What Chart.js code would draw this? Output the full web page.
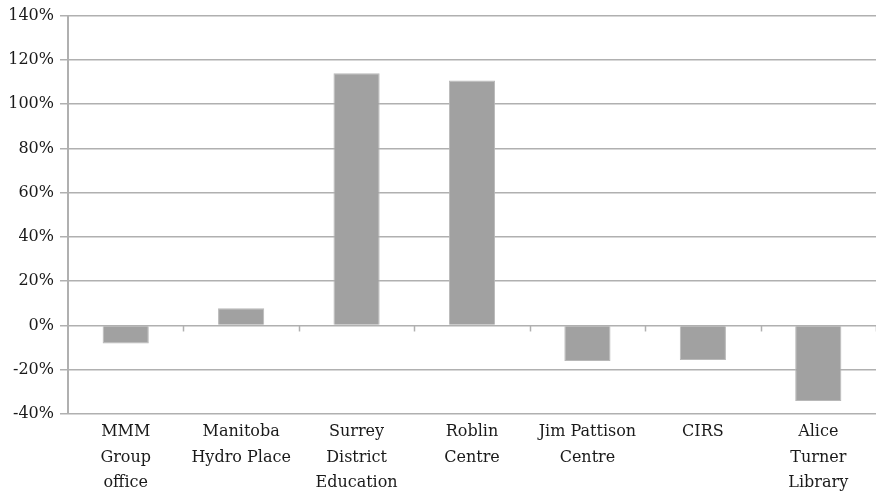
<!DOCTYPE html>
<html>
<head>
<meta charset="utf-8">
<script src="https://cdn.jsdelivr.net/npm/chart.js@4/dist/chart.umd.min.js"></script>
<style>
  html, body { margin: 0; padding: 0; background: #fff; }
  #wrap { width: 876px; height: 494px; }
</style>
</head>
<body>
<div id="wrap"><canvas id="c" width="876" height="494"></canvas></div>
<script>
// Building names (multi-line labels) and percentage differences
const categories = [
  ["MMM", "Group", "office"],
  ["Manitoba", "Hydro Place"],
  ["Surrey", "District", "Education"],
  ["Roblin", "Centre"],
  ["Jim Pattison", "Centre"],
  ["CIRS"],
  ["Alice", "Turner", "Library"]
];
const percentDiff = [-8.2, 7.8, 114, 110.7, -16.1, -15.6, -34.1];
const yTicks = { min: -40, max: 140, step: 20 };

const GRID = '#b0b0b0';
const FONT = "'DejaVu Serif', serif";

// Category-boundary tick marks hanging below the zero line
const zeroAxisTicks = {
  id: 'zeroAxisTicks',
  afterDatasetsDraw(chart) {
    const x = chart.scales.x, y = chart.scales.y;
    const y0 = y.getPixelForValue(0);
    const ctx = chart.ctx;
    ctx.save();
    ctx.strokeStyle = GRID;
    ctx.lineWidth = 1.5;
    const half = (x.getPixelForValue(1) - x.getPixelForValue(0)) / 2;
    for (let i = 0; i < categories.length; i++) {
      const px = Math.round(x.getPixelForValue(i) + half) + 0.5;
      ctx.beginPath();
      ctx.moveTo(px, y0);
      ctx.lineTo(px, y0 + 6);
      ctx.stroke();
    }
    ctx.restore();
  }
};

new Chart(document.getElementById('c'), {
  type: 'bar',
  data: {
    labels: categories,
    datasets: [{
      data: percentDiff,
      backgroundColor: '#a1a1a1',
      borderColor: '#b8b8b8',
      borderWidth: 1,
      barPercentage: 0.4,
      categoryPercentage: 1.0
    }]
  },
  options: {
    responsive: false,
    animation: false,
    layout: { padding: { top: 3, right: 0, left: 0, bottom: 0 } },
    plugins: { legend: { display: false }, tooltip: { enabled: false } },
    scales: {
      x: {
        offset: true,
        grid: { display: false },
        border: { display: false },
        ticks: {
          color: '#1a1a1a',
          font: { family: FONT, size: 16, lineHeight: 1.6 },
          padding: -3,
          maxRotation: 0,
          autoSkip: false
        },
        afterFit(s) { s.height = 80; }
      },
      y: {
        min: yTicks.min,
        max: yTicks.max,
        grid: { color: GRID, lineWidth: 1.5, tickLength: 8, drawTicks: true },
        border: { display: true, color: GRID, width: 2 },
        ticks: {
          stepSize: yTicks.step,
          color: '#1a1a1a',
          padding: 6,
          font: { family: FONT, size: 16 },
          callback: v => v + '%'
        },
        afterFit(s) { s.width = 68; }
      }
    }
  },
  plugins: [zeroAxisTicks]
});
</script>
</body>
</html>
